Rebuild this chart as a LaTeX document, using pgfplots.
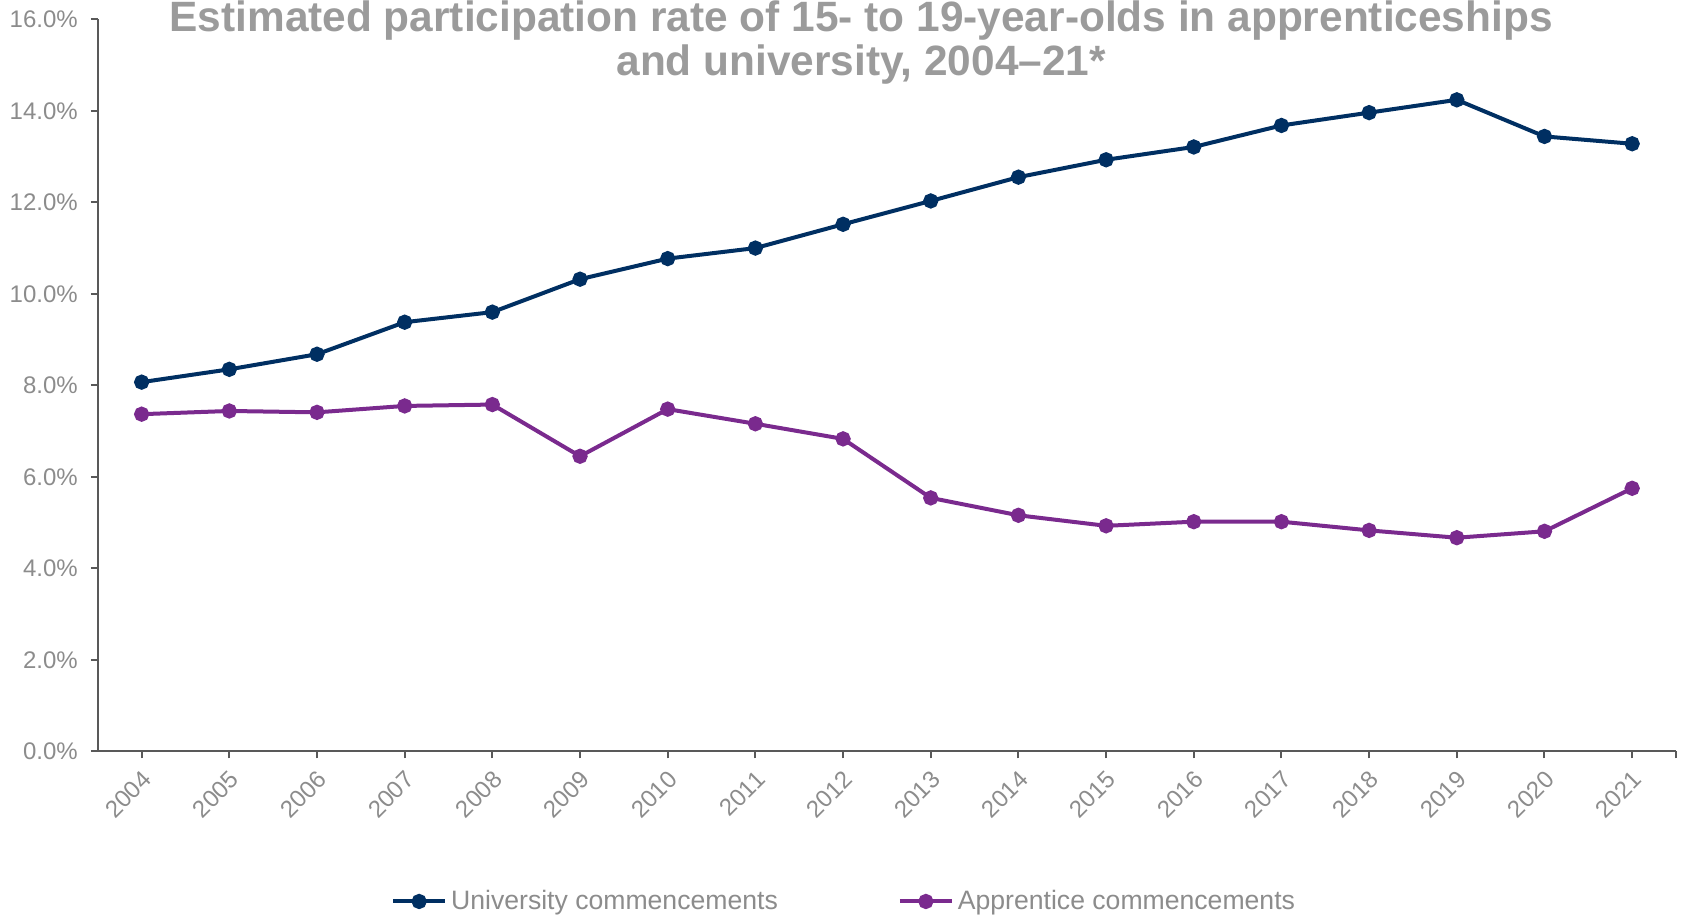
\documentclass[border=0pt]{standalone}
\usepackage{fontspec}
\setmainfont{Liberation Sans}
\usepackage{pgfplots}
\pgfplotsset{compat=1.18}

\definecolor{uni}{HTML}{002F62}
\definecolor{appr}{HTML}{7A2A8E}
\definecolor{axisgray}{HTML}{595959}
\definecolor{labgray}{HTML}{8C8C8C}
\definecolor{titlegray}{HTML}{9B9B9B}

\begin{document}
\begin{tikzpicture}
  \begin{axis}[
    scale only axis,
    width=789pt, height=366pt,
    xmin=2003.5, xmax=2021.5,
    ymin=0, ymax=16,
    clip=false,
    axis lines=left,
    axis line style={-, draw=axisgray, line width=1pt},
    xtick={2004,...,2021},
    extra x ticks={2021.5},
    extra x tick labels={},
    ytick={0,2,...,16},
    tick align=outside,
    major tick length=3.5pt,
    tick style={draw=axisgray, line width=1pt},
    /pgf/number format/assume math mode=true,
    /pgf/number format/1000 sep={},
    xticklabel style={rotate=45, anchor=north east, inner sep=1pt,
      font=\fontsize{12}{14}\selectfont, text=labgray, xshift=-3pt, yshift=-2.5pt},
    yticklabel style={font=\fontsize{12}{14}\selectfont, text=labgray, xshift=-3pt},
    yticklabel={\pgfmathprintnumber[fixed,fixed zerofill,precision=1]{\tick}\%},
    legend columns=2,
    legend style={at={(0.4735,-0.205)}, anchor=center, draw=none,
      font=\fontsize{13.3}{15}\selectfont, text=labgray,
      /tikz/every even column/.append style={column sep=58pt},
      inner sep=0pt},
    legend cell align=left,
    legend image code/.code={
      \draw[mark repeat=2, mark phase=2, #1]
        plot coordinates {(0pt,0pt) (13pt,0pt) (26pt,0pt)};},
  ]
    \addplot[uni, line width=2pt, mark=*, mark size=2.8pt] coordinates {
      (2004,8.07) (2005,8.35) (2006,8.68) (2007,9.38) (2008,9.60)
      (2009,10.32) (2010,10.77) (2011,11.00) (2012,11.52) (2013,12.03)
      (2014,12.55) (2015,12.93) (2016,13.21) (2017,13.68) (2018,13.96)
      (2019,14.24) (2020,13.44) (2021,13.28)};
    \addplot[appr, line width=2pt, mark=*, mark size=2.8pt] coordinates {
      (2004,7.37) (2005,7.44) (2006,7.41) (2007,7.55) (2008,7.58)
      (2009,6.45) (2010,7.48) (2011,7.16) (2012,6.83) (2013,5.54)
      (2014,5.16) (2015,4.93) (2016,5.02) (2017,5.02) (2018,4.83)
      (2019,4.67) (2020,4.81) (2021,5.75)};
    \legend{University commencements, Apprentice commencements}

    \node[font=\fontsize{21.2}{25}\selectfont\bfseries, text=titlegray,
      anchor=base, yshift=-6.2pt] at (rel axis cs:0.4837,1)
      {Estimated participation rate of 15- to 19-year-olds in apprenticeships};
    \node[font=\fontsize{21.2}{25}\selectfont\bfseries, text=titlegray,
      anchor=base, yshift=-28pt] at (rel axis cs:0.4837,1)
      {and university, 2004–21*};

    \coordinate (bl) at (rel axis cs:0,0);
    \coordinate (tr) at (rel axis cs:1,1);
  \end{axis}
  \pgfresetboundingbox
  \path ([xshift=-48.9pt,yshift=-82.5pt]bl) rectangle ([xshift=3pt,yshift=9.65pt]tr);
\end{tikzpicture}
\end{document}
